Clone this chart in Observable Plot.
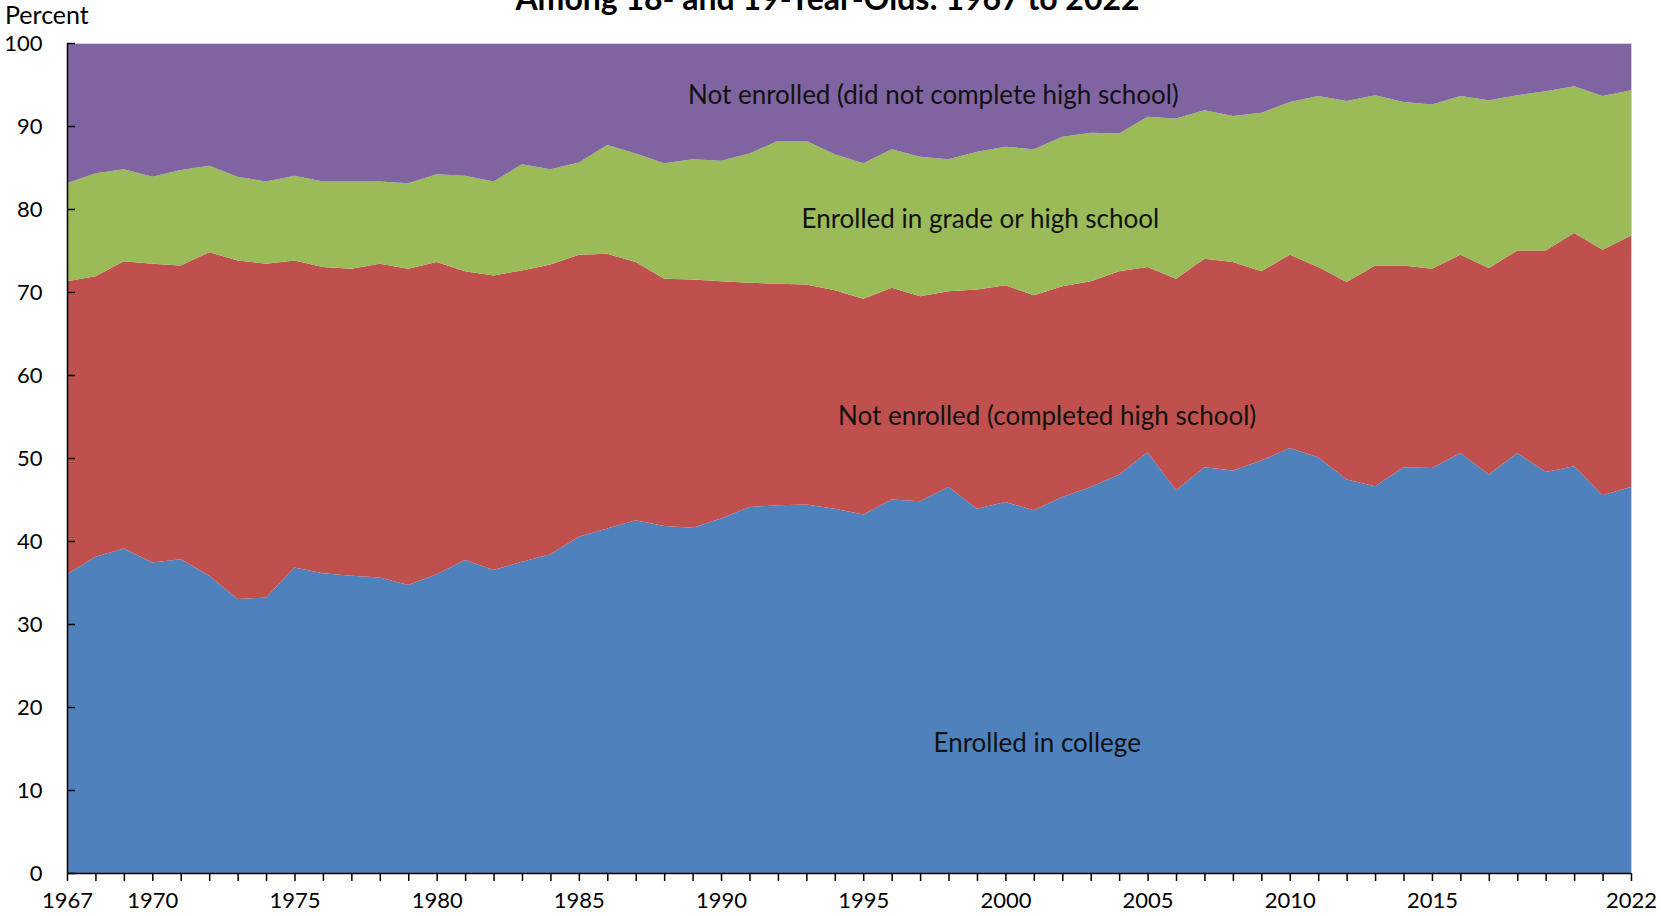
<!DOCTYPE html>
<html>
<head>
<meta charset="utf-8">
<script src="https://cdn.jsdelivr.net/npm/d3@7"></script>
<script src="https://cdn.jsdelivr.net/npm/@observablehq/plot@0.6"></script>
<style>
  body { margin: 0; background: #fff; overflow: hidden; font-family: Lato, "Open Sans", sans-serif; }
  #wrap { position: relative; width: 1661px; height: 916px; }
  #title { position: absolute; left: 0; width: 1655px; top: -18px; text-align: center; font-weight: bold; font-size: 32px; line-height: 32px; color: #000; }
  #ylab { position: absolute; left: 5px; top: 2px; font-size: 25px; line-height: 25px; color: #000; }
  #chart svg { display: block; }
</style>
</head>
<body>
<div id="wrap">
  <div id="chart"></div>
  <div id="title">Among 18- and 19-Year-Olds: 1967 to 2022</div>
  <div id="ylab">Percent</div>
</div>
<script>
const years = [1967,1968,1969,1970,1971,1972,1973,1974,1975,1976,
  1977,1978,1979,1980,1981,1982,1983,1984,1985,1986,
  1987,1988,1989,1990,1991,1992,1993,1994,1995,1996,
  1997,1998,1999,2000,2001,2002,2003,2004,2005,2006,
  2007,2008,2009,2010,2011,2012,2013,2014,2015,2016,
  2017,2018,2019,2020,2021,2022];

const enrolledCollege = [36.0,38.1,39.1,37.4,37.8,35.8,33.0,33.2,36.8,36.1,
  35.8,35.6,34.7,36.0,37.7,36.5,37.5,38.4,40.5,41.5,
  42.5,41.8,41.6,42.7,44.1,44.3,44.4,43.9,43.2,45.0,
  44.8,46.5,43.9,44.7,43.7,45.3,46.5,48.0,50.7,46.1,
  48.9,48.5,49.7,51.2,50.1,47.4,46.6,48.9,48.8,50.6,
  48.0,50.6,48.3,49.0,45.5,46.5];

const notEnrolledCompletedHS = [35.3,33.8,34.6,36.0,35.4,39.0,40.8,40.2,37.0,36.9,
  37.0,37.8,38.1,37.6,34.8,35.5,35.1,34.9,34.0,33.1,
  31.1,29.8,29.9,28.6,27.0,26.7,26.5,26.3,26.0,25.5,
  24.7,23.6,26.4,26.1,25.9,25.4,24.8,24.5,22.3,25.5,
  25.1,25.1,22.8,23.3,22.9,23.8,26.6,24.3,24.0,23.9,
  24.9,24.4,26.7,28.1,29.6,30.3];

const enrolledGradeHS = [11.8,12.4,11.1,10.5,11.5,10.4,10.1,9.9,10.2,10.3,
  10.5,9.9,10.3,10.6,11.5,11.3,12.8,11.5,11.1,13.1,
  13.1,13.9,14.5,14.5,15.6,17.2,17.3,16.4,16.3,16.7,
  16.8,15.9,16.6,16.7,17.6,18.0,17.9,16.6,18.1,19.3,
  17.9,17.6,19.1,18.4,20.6,21.8,20.5,19.7,19.8,19.1,
  20.2,18.7,19.2,17.7,18.5,17.5];

const notEnrolledNoHS = [16.9,15.7,15.2,16.1,15.3,14.8,16.1,16.7,16.0,16.7,
  16.7,16.7,16.9,15.8,16.0,16.7,14.6,15.2,14.4,12.3,
  13.3,14.5,14.0,14.2,13.3,11.8,11.8,13.4,14.5,12.8,
  13.7,14.0,13.1,12.5,12.8,11.3,10.8,10.9,8.9,9.1,
  8.1,8.8,8.4,7.1,6.4,7.0,6.3,7.1,7.4,6.4,
  6.9,6.3,5.8,5.2,6.4,5.7];

const seriesNames = [
  "Enrolled in college",
  "Not enrolled (completed high school)",
  "Enrolled in grade or high school",
  "Not enrolled (did not complete high school)"
];
const seriesValues = [enrolledCollege, notEnrolledCompletedHS, enrolledGradeHS, notEnrolledNoHS];
const seriesColors = ["#4F81BD", "#C0504D", "#9BBB59", "#8064A2"];

const yTicks = [0,10,20,30,40,50,60,70,80,90,100];
const xLabelYears = [1967,1970,1975,1980,1985,1990,1995,2000,2005,2010,2015,2022];

// area annotation anchors (year, percent)
const labelText = seriesNames;
const labelYear = [2001.1, 2001.45, 1999.1, 1997.45];
const labelValue = [15.6, 55.0, 78.8, 93.7];

const data = years.flatMap((yr, i) => seriesNames.map((s, j) => ({year: yr, series: s, value: seriesValues[j][i]})));
const labels = labelText.map((t, i) => ({text: t, year: labelYear[i], value: labelValue[i]}));

const chart = Plot.plot({
  width: 1661,
  height: 916,
  marginLeft: 67,
  marginRight: 30,
  marginTop: 43,
  marginBottom: 43,
  style: {fontFamily: "Lato, 'Open Sans', sans-serif", fontSize: "22px", color: "#000", background: "#fff"},
  x: {domain: [1967, 2022]},
  y: {domain: [0, 100]},
  color: {domain: seriesNames, range: seriesColors},
  marks: [
    Plot.areaY(data, {x: "year", y: "value", fill: "series", z: "series"}),
    Plot.frame({stroke: "#cfcfcf"}),
    Plot.text(labels, {x: "year", y: "value", text: "text", fontSize: 26, fill: "#111"}),
    Plot.axisY({ticks: yTicks, tickSize: 0, tickPadding: 25, label: null, fontSize: 22}),
    Plot.axisY({ticks: yTicks, tickSize: -8, tickFormat: () => "", label: null, stroke: "#000", strokeWidth: 1.5}),
    Plot.axisX({ticks: years, tickSize: 8, tickPadding: 11, label: null, fontSize: 22, strokeWidth: 1.5,
      tickFormat: d => xLabelYears.includes(d) ? String(d) : ""}),
    Plot.ruleX([1967], {stroke: "#000", strokeWidth: 1.5}),
    Plot.ruleY([0], {stroke: "#000", strokeWidth: 1.5})
  ]
});
document.getElementById("chart").appendChild(chart);
</script>
</body>
</html>
